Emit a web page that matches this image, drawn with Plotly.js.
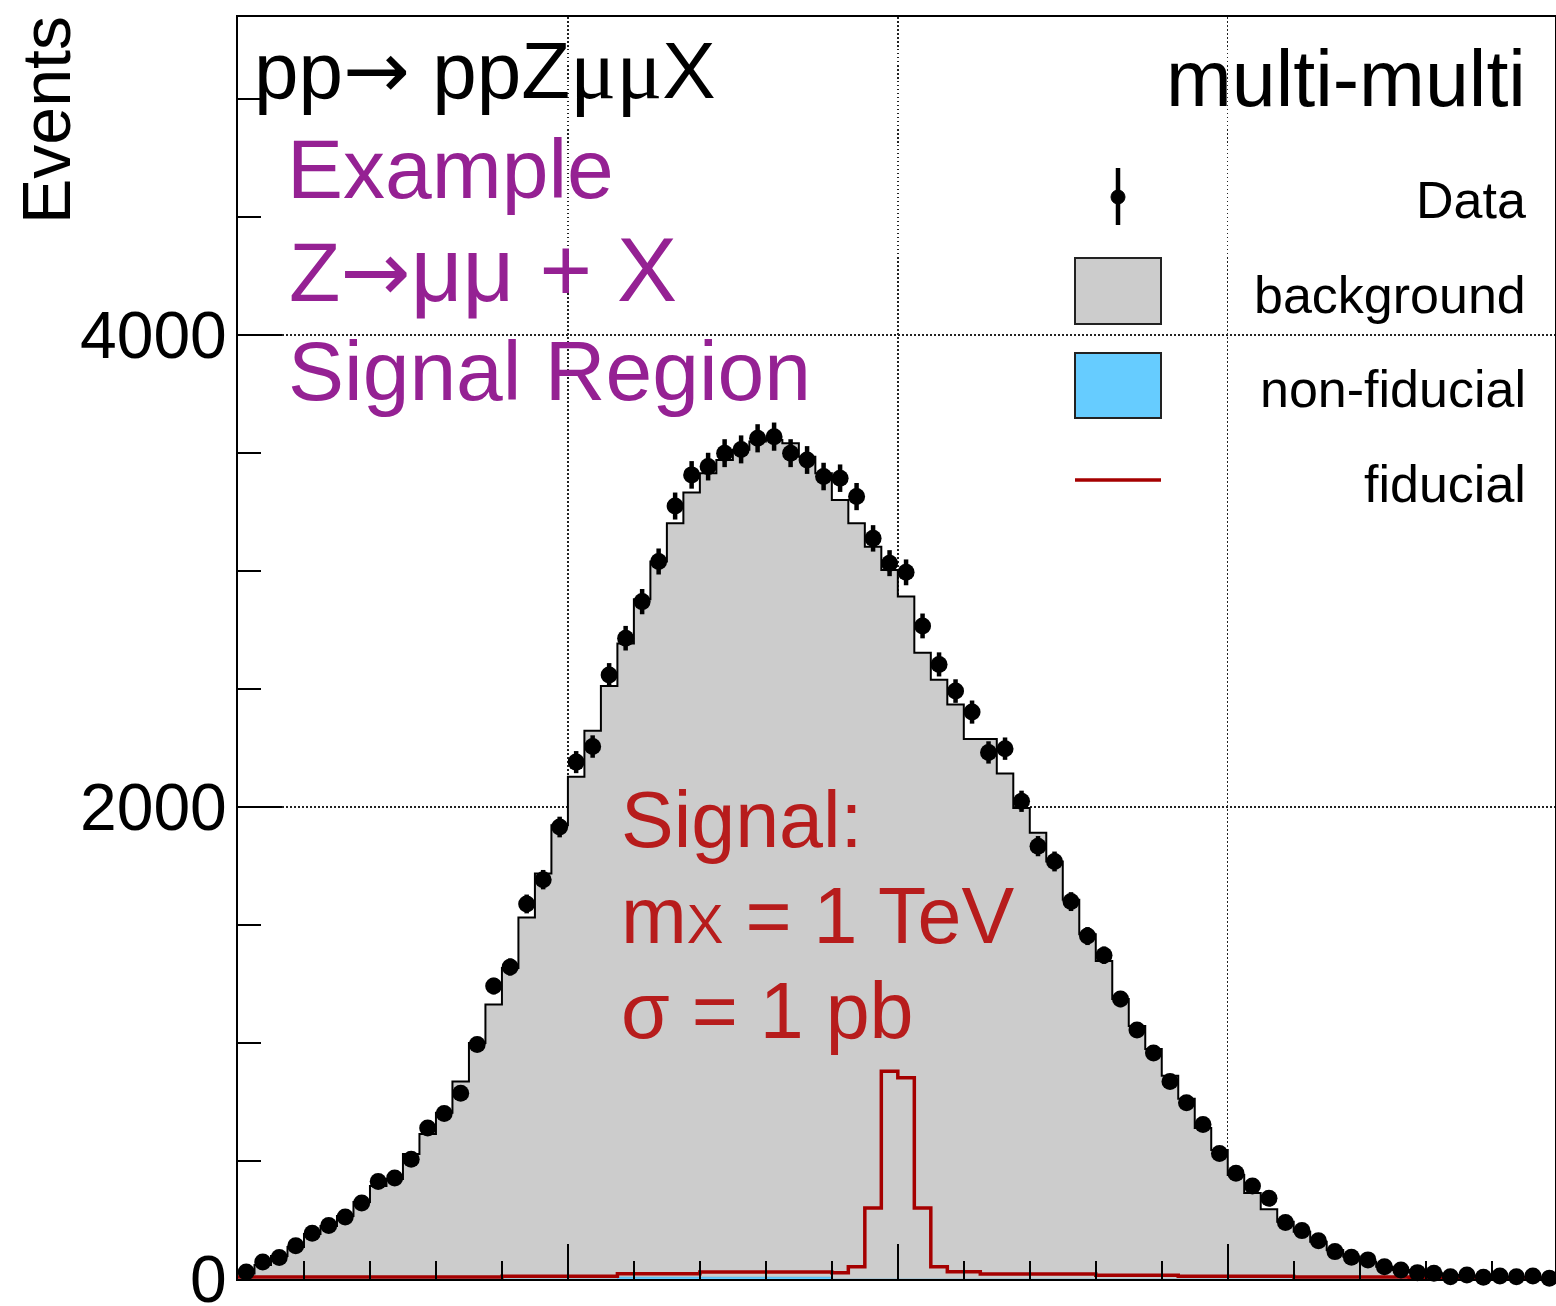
<!DOCTYPE html>
<html>
<head>
<meta charset="utf-8">
<script src="https://cdn.plot.ly/plotly-3.0.1.min.js"></script>
<style>html,body{margin:0;padding:0;background:#fff;} #chart{width:1556px;height:1306px;}</style>
</head>
<body>
<div id="chart"></div>
<script>
// ---- binning (80 bins, 25 GeV wide, 0-2000 GeV) ----
const binLow = 0;
const binWidth = 25;
const nBins = 80;

// ---- values (events per bin) ----
const dataCounts = [
  30, 72, 91, 141, 194, 227, 263, 322, 413, 428,
  507, 640, 701, 787, 994, 1241, 1322, 1589, 1692, 1915,
  2190, 2256, 2559, 2715, 2870, 3040, 3275, 3407, 3442, 3499,
  3515, 3562, 3569, 3499, 3470, 3400, 3393, 3315, 3138, 3033,
  2994, 2767, 2604, 2491, 2402, 2231, 2247, 2024, 1834, 1769,
  1599, 1453, 1372, 1186, 1055, 958, 837, 747, 655, 532,
  448, 394, 342, 239, 205, 162, 116, 92, 81, 52,
  38, 27, 24, 10, 17, 7, 13, 10, 13, 3
];

const backgroundCounts = [
  23, 59, 97, 136, 191, 225, 267, 326, 394, 424,
  530, 614, 704, 837, 1000, 1163, 1318, 1532, 1718, 1922,
  2128, 2323, 2513, 2693, 2880, 3040, 3202, 3332, 3414, 3470,
  3513, 3548, 3555, 3541, 3484, 3414, 3301, 3202, 3103, 3004,
  2892, 2653, 2539, 2434, 2288, 2288, 2142, 1996, 1891, 1769,
  1607, 1461, 1347, 1186, 1072, 975, 861, 764, 640, 547,
  441, 364, 295, 243, 200, 158, 123, 95, 73, 52,
  38, 31, 24, 17, 14, 11, 9, 7, 5, 4
];

const nonFiducialCounts = [
  0, 0, 0, 0, 0, 0, 0, 0, 0, 0,
  0, 0, 0, 0, 0, 0, 0, 0, 0, 0,
  0, 0, 0, 8, 8, 8, 8, 8, 8, 8,
  8, 8, 8, 8, 8, 8, 0, 0, 0, 0,
  0, 0, 0, 0, 0, 0, 0, 0, 0, 0,
  0, 0, 0, 0, 0, 0, 0, 0, 0, 0,
  0, 0, 0, 0, 0, 0, 0, 0, 0, 0,
  0, 0, 0, 0, 0, 0, 0, 0, 0, 0
];

const fiducialCounts = [
  8, 8, 8, 8, 8, 8, 8, 8, 8, 8,
  8, 8, 8, 8, 8, 8, 12, 12, 12, 12,
  12, 12, 12, 22, 22, 22, 22, 22, 30, 30,
  30, 30, 30, 30, 30, 30, 26, 52, 301, 880,
  853, 301, 52, 31, 31, 21, 21, 21, 21, 21,
  21, 21, 16, 16, 16, 16, 16, 12, 12, 12,
  12, 12, 12, 12, 8, 8, 8, 8, 8, 8,
  8, 4, 4, 4, 4, 4, 4, 4, 4, 4
];

const yTickVals = [0, 2000, 4000];
const yTickText = ["0", "2000", "4000"];

// ---- derived bin geometry ----
const edges = [];
for (let i = 0; i <= nBins; i++) edges.push(binLow + i * binWidth);
const centers = [];
for (let i = 0; i < nBins; i++) centers.push(binLow + (i + 0.5) * binWidth);
const stepY = v => v.concat([v[v.length - 1]]);

// ---- layout geometry (pixels) ----
const FIG_W = 1556, FIG_H = 1306;
const M_L = 238, M_R = 1, M_T = 17, M_B = 27;
const PW = FIG_W - M_L - M_R, PH = FIG_H - M_T - M_B;
const px = x => (x - M_L) / PW;
const py = y => (M_T + PH - y) / PH;

const FONT = "Liberation Sans, Arial, Helvetica, sans-serif";
const PURPLE = "#952193";
const RED_TXT = "#b71c1c";
const RED_LINE = "#a50000";
const ARROW = '<span style="font-family:DejaVu Sans">\u2192</span>';
const SERIF_MU = '<span style="font-family:Liberation Serif;font-size:86px">\u03bc\u03bc</span>';

const traces = [
  {
    name: "background", type: "scatter", mode: "lines",
    x: edges, y: stepY(backgroundCounts),
    line: {shape: "hv", color: "black", width: 2},
    fill: "tozeroy", fillcolor: "#cccccc", hoverinfo: "skip"
  },
  {
    name: "non-fiducial", type: "scatter", mode: "lines",
    x: edges, y: stepY(nonFiducialCounts),
    line: {shape: "hv", color: "#4aa8d8", width: 0.5},
    fill: "tozeroy", fillcolor: "#66ccff", hoverinfo: "skip"
  },
  {
    name: "fiducial", type: "scatter", mode: "lines",
    x: edges, y: stepY(fiducialCounts),
    line: {shape: "hv", color: RED_LINE, width: 3.5}
  },
  {
    name: "Data", type: "scatter", mode: "markers",
    x: centers, y: dataCounts,
    marker: {color: "black", size: 17, symbol: "circle"},
    error_y: {type: "sqrt", color: "black", thickness: 4.5, width: 0},
    cliponaxis: false
  }
];

function ann(text, x, yBase, size, color, anchor, extra) {
  return Object.assign({
    text: text, xref: "paper", yref: "paper",
    x: px(x), y: py(yBase - 0.35 * size),
    xanchor: anchor, yanchor: "middle", showarrow: false,
    font: {family: FONT, size: size, color: color}
  }, extra || {});
}

const annotations = [
  ann("pp" + ARROW + " ppZ" + SERIF_MU + "X", 252, 97, 80, "black", "left"),
  ann("multi-multi", 1528, 106, 79, "black", "right"),
  ann("Example", 285, 198, 84, PURPLE, "left"),
  ann("Z" + ARROW + '<span style="font-size:90px">\u03bc\u03bc + X</span>', 287, 300, 84, PURPLE, "left"),
  ann("Signal Region", 286, 400, 84, PURPLE, "left"),
  ann("Signal:", 619, 847, 79, RED_TXT, "left"),
  ann('m<span style="font-size:55px">X</span> = 1 TeV', 619, 943, 79, RED_TXT, "left"),
  ann("\u03c3 = 1 pb", 619, 1038, 79, RED_TXT, "left"),
  ann("Data", 1528, 218, 52, "black", "right"),
  ann("background", 1528, 313, 52, "black", "right"),
  ann("non-fiducial", 1528, 407, 52, "black", "right"),
  ann("fiducial", 1528, 502, 52, "black", "right"),
  {
    text: "Events", xref: "paper", yref: "paper",
    x: px(46), y: py(120), xanchor: "center", yanchor: "middle",
    textangle: -90, showarrow: false,
    font: {family: FONT, size: 68, color: "black"}
  }
];

const shapes = [
  // Data legend glyph
  {type: "line", xref: "paper", yref: "paper", x0: px(1118), x1: px(1118), y0: py(168), y1: py(225),
   line: {color: "black", width: 4.5}},
  {type: "circle", xref: "paper", yref: "paper", x0: px(1111), x1: px(1125), y0: py(190), y1: py(204),
   fillcolor: "black", line: {color: "black", width: 1}},
  // background box
  {type: "rect", xref: "paper", yref: "paper", x0: px(1075), x1: px(1161), y0: py(258), y1: py(324),
   fillcolor: "#cccccc", line: {color: "#222", width: 2}},
  // non-fiducial box
  {type: "rect", xref: "paper", yref: "paper", x0: px(1075), x1: px(1161), y0: py(353), y1: py(418),
   fillcolor: "#66ccff", line: {color: "#222", width: 2}},
  // fiducial line
  {type: "line", xref: "paper", yref: "paper", x0: px(1075), x1: px(1161), y0: py(480), y1: py(480),
   line: {color: RED_LINE, width: 3.5}}
];

const layout = {
  width: FIG_W, height: FIG_H,
  margin: {l: M_L, r: M_R, t: M_T, b: M_B, pad: 0},
  paper_bgcolor: "white", plot_bgcolor: "white",
  showlegend: false,
  font: {family: FONT, color: "black"},
  xaxis: {
    range: [0, 1996], showticklabels: false,
    ticks: "inside", ticklen: 35, tickwidth: 2, tickcolor: "black",
    tick0: 0, dtick: 500,
    minor: {dtick: 100, ticks: "inside", ticklen: 18, tickwidth: 2, tickcolor: "black", showgrid: false},
    showgrid: true, gridcolor: "#222", gridwidth: 1.5, griddash: "1.5px,2.5px",
    showline: true, linecolor: "black", linewidth: 2, mirror: true,
    zeroline: false, fixedrange: true
  },
  yaxis: {
    range: [0, 5347],
    tickmode: "array", tickvals: yTickVals, ticktext: yTickText,
    ticks: "inside", ticklen: 44, tickwidth: 2, tickcolor: "black",
    tickfont: {family: FONT, size: 66, color: "black"},
    ticklabelstandoff: -4,
    ticklabeloverflow: "allow",
    minor: {dtick: 500, ticks: "inside", ticklen: 23, tickwidth: 2, tickcolor: "black", showgrid: false},
    showgrid: true, gridcolor: "#222", gridwidth: 1.5, griddash: "1.5px,2.5px",
    showline: true, linecolor: "black", linewidth: 2, mirror: true,
    zeroline: false, fixedrange: true
  },
  annotations: annotations,
  shapes: shapes
};

Plotly.newPlot("chart", traces, layout, {displayModeBar: false, staticPlot: true});
</script>
</body>
</html>
